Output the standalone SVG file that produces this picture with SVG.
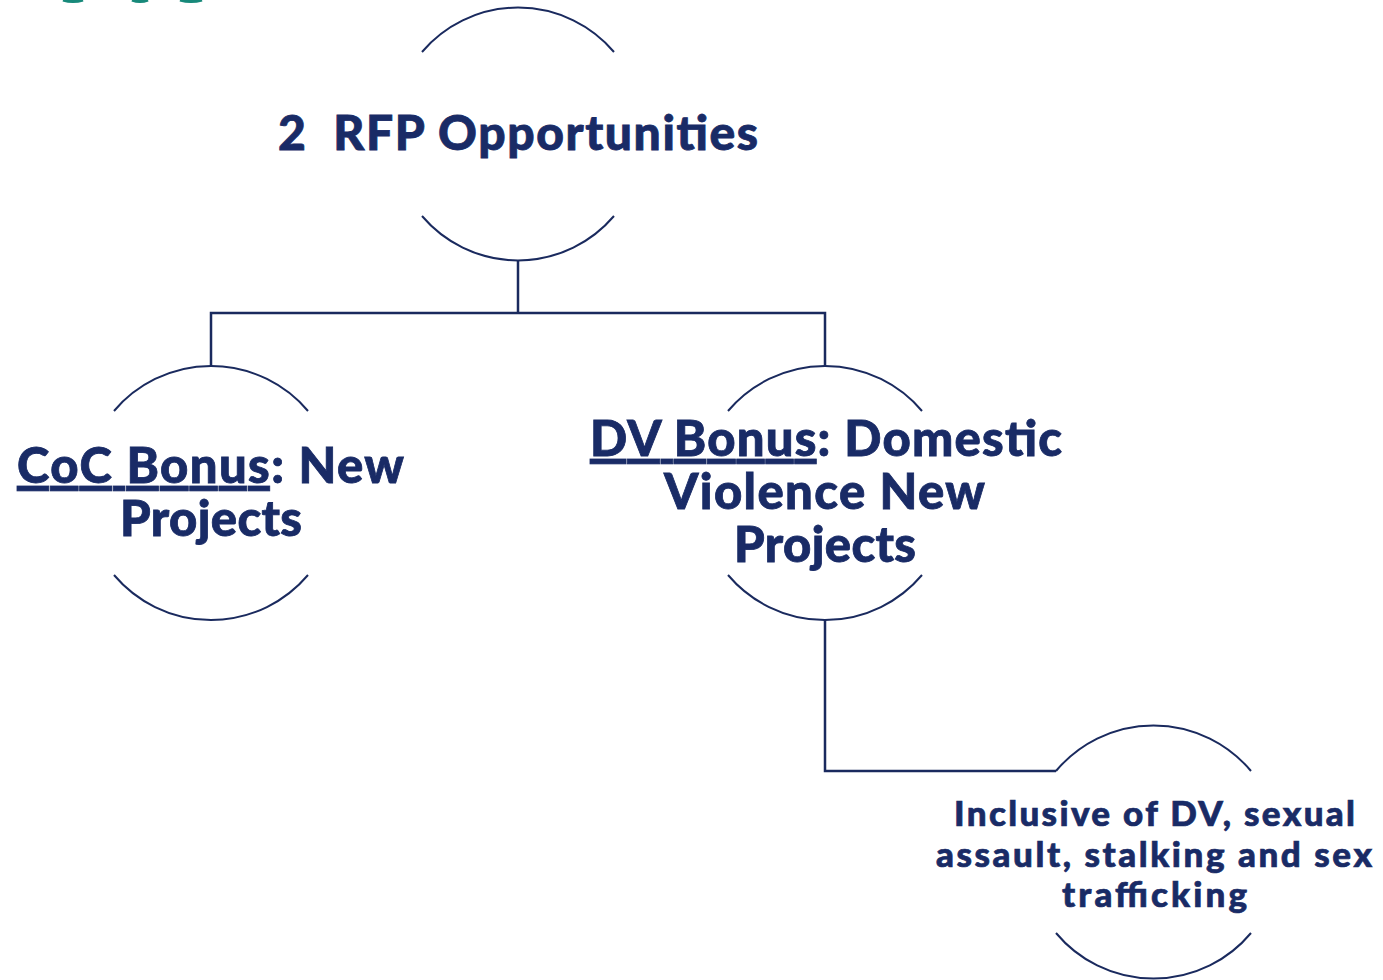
<svg xmlns="http://www.w3.org/2000/svg" width="1383" height="980" viewBox="0 0 1383 980">
<style>
.arc{fill:none;stroke:#1a2a5e;stroke-width:2}
.con{fill:none;stroke:#1a2a5e;stroke-width:2.5}
.teal{fill:none;stroke:#17897a;stroke-width:3}
.t{font-family:Lato,"Open Sans",sans-serif;font-weight:900;fill:#192b66;text-anchor:middle;stroke:#192b66;stroke-width:0.8}
.big{font-size:48px}
.mid{font-size:49px}
.sm{font-size:35px;stroke-width:0.7}
</style>
<rect width="1383" height="980" fill="#ffffff"/>
<g id="decor">
<path class="teal" d="M63,0 Q73,3 83,0"/>
<path class="teal" d="M132,0 Q140,3 148,0"/>
<path class="teal" d="M180,0 Q191,3 202,0"/>
</g>
<g id="connectors">
<path class="con" d="M518,260 V313"/>
<path class="con" d="M211,366 V313 H825 V366"/>
<path class="con" d="M825,620 V771 H1056"/>
</g>
<g id="node-rfp">
<path class="arc" d="M422,52 A126,126 0 0 1 614,52"/>
<path class="arc" d="M422,216 A126,126 0 0 0 614,216"/>
<text class="t big" x="518" y="150" xml:space="preserve" textLength="480">2  RFP Opportunities</text>
</g>
<g id="node-coc">
<path class="arc" d="M114,411 A127,127 0 0 1 308,411"/>
<path class="arc" d="M114,575 A127,127 0 0 0 308,575"/>
<text class="t mid" x="210.5" y="483" textLength="387"><tspan text-decoration="underline">CoC Bonus</tspan>: New</text>
<text class="t mid" x="211" y="536" textLength="182">Projects</text>
</g>
<g id="node-dv">
<path class="arc" d="M728,411 A127,127 0 0 1 922,411"/>
<path class="arc" d="M728,575 A127,127 0 0 0 922,575"/>
<text class="t mid" x="826" y="456" textLength="472"><tspan text-decoration="underline">DV Bonus</tspan>: Domestic</text>
<text class="t mid" x="824.5" y="509" textLength="321">Violence New</text>
<text class="t mid" x="825" y="562" textLength="182">Projects</text>
</g>
<g id="node-inclusive">
<path class="arc" d="M1056,771 A127,127 0 0 1 1251,771"/>
<path class="arc" d="M1056,933 A127,127 0 0 0 1251,933"/>
<text class="t sm" x="1154.5" y="826" textLength="401">Inclusive of DV, sexual</text>
<text class="t sm" x="1154" y="867" textLength="436">assault, stalking and sex</text>
<text class="t sm" x="1154.5" y="907" textLength="185">trafficking</text>
</g>
</svg>
